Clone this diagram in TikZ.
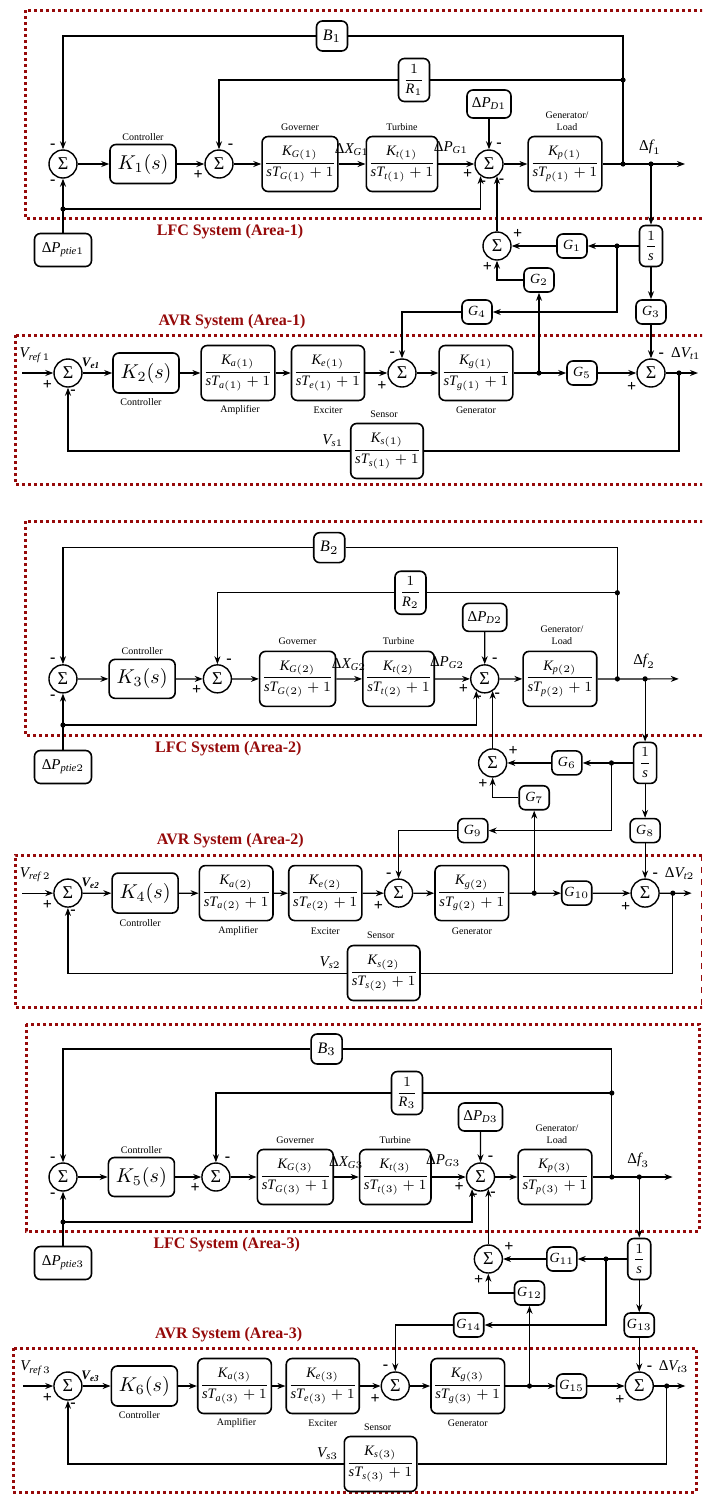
\documentclass[tikz,border=0pt]{standalone}
\usepackage{amsmath}
\usepackage{fontspec}
\setmainfont{Liberation Serif}
\usetikzlibrary{arrows.meta}
\definecolor{dred}{RGB}{150,10,10}
\newcommand\mv[1]{\textit{#1}}
\newcommand\Dl{\text{Δ}}
\newcommand\TF[2]{$\dfrac{\mv{K}_{\mv{#1}(#2)}}{\mv{sT}_{\mv{#1}(#2)}+1}$}
\tikzset{
 blk/.style={draw, rounded corners=3pt, line width=0.8pt, inner sep=1pt, align=center,
   minimum width=30.5pt, minimum height=27.5pt, font=\fontsize{7.2}{8.5}\selectfont},
 gbox/.style={blk, minimum width=15pt, minimum height=12pt, font=\fontsize{7}{8}\selectfont},
 sumn/.style={draw, circle, line width=0.7pt, minimum size=14pt, inner sep=0pt, font=\fontsize{9}{10}\selectfont},
 sgn/.style={font=\fontsize{8}{8}\selectfont\bfseries, inner sep=0pt, label distance=1.2pt},
 arr/.style={-{Stealth[length=4pt,width=3pt]}, line width=0.6pt},
 ln/.style={line width=0.6pt},
 capt/.style={font=\fontsize{5}{6}\selectfont, inner sep=0pt, align=center},
 ttl/.style={font=\fontsize{8}{10}\selectfont\bfseries, text=dred, inner sep=0pt},
 sig/.style={font=\fontsize{7.5}{9}\selectfont, inner sep=0pt},
 bord/.style={dred, line width=1.5pt, dash pattern=on 1.5pt off 1.5pt},
}
\newcommand\DrawArea[2]{%
\pgfmathtruncatemacro\myKl{2*#1-1}%
\pgfmathtruncatemacro\myKa{2*#1}%
\pgfmathtruncatemacro\myGa{5*#1-4}%
\pgfmathtruncatemacro\myGb{5*#1-3}%
\pgfmathtruncatemacro\myGc{5*#1-2}%
\pgfmathtruncatemacro\myGd{5*#1-1}%
\pgfmathtruncatemacro\myGe{5*#1}%
\begin{scope}[#2]
% ---------------- LFC ----------------
\node[ttl] (tL#1) at (230,232) {LFC System (Area-#1)};
\node[sumn, label={[sgn]115:-}, label={[sgn]245:-}] (sA#1) at (63,164) {Σ};
\node[blk, minimum width=33pt, minimum height=19.5pt, font=\fontsize{10}{12}\selectfont] (K#1) at (143,164) {$K_{\myKl}(s)$};
\node[capt] (cK#1) at (143,137) {Controller};
\node[sumn, label={[sgn]202:+}, label={[sgn]60:-}] (sB#1) at (219,164) {Σ};
\node[blk] (gov#1) at (300,164) {\TF{G}{#1}};
\node[capt] (cG#1) at (300,127) {Governer};
\node[sig] (lX#1) at (352,150) {$\Dl\mv{X}_{\mv{G}#1}$};
\node[blk] (tur#1) at (402,164) {\TF{t}{#1}};
\node[capt] (cT#1) at (402,127) {Turbine};
\node[sig] (lP#1) at (451,148) {$\Dl\mv{P}_{\mv{G}#1}$};
\node[sumn, label={[sgn]197:+}, label={[sgn]66:-}, label={[sgn]261:-}, label={[sgn]304:-}] (sC#1) at (489,164) {Σ};
\node[blk, minimum width=22pt, minimum height=14pt, font=\fontsize{7.5}{9}\selectfont] (PD#1) at (489,104) {$\Dl\mv{P}_{\mv{D}#1}$};
\node[blk] (gl#1) at (565,164) {\TF{p}{#1}};
\node[capt] (cL#1) at (567,121) {Generator/\\Load};
\node[blk, minimum width=15.5pt, minimum height=15pt, font=\fontsize{8}{9}\selectfont] (B#1) at (332,36) {$\mv{B}_{#1}$};
\node[blk, minimum width=15.5pt, minimum height=21.5pt] (R#1) at (414,80) {$\dfrac{1}{\mv{R}_{#1}}$};
\node[blk, minimum width=28.5pt, minimum height=16.5pt, font=\fontsize{7.5}{9}\selectfont] (pt#1) at (63,250) {$\Dl\mv{P}_{\mv{ptie}#1}$};
\node[sig] (lf#1) at (650,147) {$\Dl\mv{f}_{#1}$};
\coordinate (J1#1) at (623,164);
\coordinate (JR#1) at (623,80);
\coordinate (J2#1) at (651,164);
\coordinate (fe#1) at (685,164);
\coordinate (Jb#1) at (63,209);
\node[blk, minimum width=11.5pt, minimum height=20.5pt] (inv#1) at (651,246) {$\dfrac{1}{\mv{s}}$};
\coordinate (J3#1) at (617,246);
\node[gbox] (gA#1) at (572,246) {$\mv{G}_{\myGa}$};
\node[sumn, label={[sgn]24:+}, label={[sgn]254:+}] (sD#1) at (497,246) {Σ};
\node[gbox] (gB#1) at (539,280) {$\mv{G}_{\myGb}$};
\node[gbox] (gD#1) at (477,312) {$\mv{G}_{\myGd}$};
\node[gbox] (gC#1) at (651,312) {$\mv{G}_{\myGc}$};
% connectors LFC
\draw[arr] (sA#1) -- (K#1);
\draw[arr] (K#1) -- (sB#1);
\draw[arr] (sB#1) -- (gov#1);
\draw[arr] (gov#1) -- (tur#1);
\draw[arr] (tur#1) -- (sC#1);
\draw[arr] (sC#1) -- (gl#1);
\draw[arr] (gl#1) -- (fe#1);
\draw[arr] (PD#1) -- (sC#1);
\draw[ln] (J1#1) |- (B#1.east);
\draw[arr] (B#1.west) -| (sA#1.north);
\draw[ln] (JR#1) -- (R#1.east);
\draw[arr] (R#1.west) -| (sB#1.north);
\draw[arr] (pt#1.north) -- (sA#1.south);
\draw[arr] (Jb#1) -| (sC#1.-125);
\draw[arr] (J2#1) -- (inv#1.north);
\draw[ln] (inv#1.west) -- (J3#1);
\draw[arr] (J3#1) -- (gA#1.east);
\draw[arr] (gA#1.west) -- (sD#1.east);
\draw[arr] (J3#1) |- (gD#1.east);
\draw[arr] (gB#1.west) -| (sD#1.south);
\draw[arr] (sD#1.north) -- (sD#1.north |- sC#1.-55);
\draw[arr] (inv#1.south) -- (gC#1.north);
% ---------------- AVR ----------------
\node[ttl] (tA#1) at (232,322) {AVR System (Area-#1)};
\node[sumn, label={[sgn]205:+}, label={[sgn]277:-}] (sE#1) at (68,373) {Σ};
\coordinate (vi#1) at (22,373);
\node[sig] (lV#1) at (35,355) {$\mv{V}_{\mv{ref}\,#1}$};
\node[font=\fontsize{6.5}{8}\selectfont\bfseries\itshape, inner sep=0pt] (lE#1) at (91,363) {V\textsubscript{e#1}};
\node[blk, minimum width=33pt, minimum height=20pt, font=\fontsize{10}{12}\selectfont] (K2#1) at (146,373) {$K_{\myKa}(s)$};
\node[capt] (cK2#1) at (141,402) {Controller};
\node[blk] (amp#1) at (238,373) {\TF{a}{#1}};
\node[capt] (cA#1) at (240,410) {Amplifier};
\node[blk] (exc#1) at (328,373) {\TF{e}{#1}};
\node[capt] (cE#1) at (328,410) {Exciter};
\node[sumn, label={[sgn]113:-}, label={[sgn]207:+}] (sF#1) at (402,373) {Σ};
\node[blk] (gen#1) at (476,373) {\TF{g}{#1}};
\node[capt] (cGe#1) at (476,410) {Generator};
\coordinate (J4#1) at (539,373);
\node[gbox] (gE#1) at (582,373) {$\mv{G}_{\myGe}$};
\node[sumn, label={[sgn]65:-}, label={[sgn]213:+}] (sG#1) at (651,373) {Σ};
\coordinate (J5#1) at (679,373);
\coordinate (ve#1) at (698,373);
\node[sig] (lDV#1) at (686,354) {$\Dl\mv{V}_{\mv{t}#1}$};
\node[blk] (sen#1) at (387,451) {\TF{s}{#1}};
\node[capt] (cS#1) at (384,414) {Sensor};
\node[sig] (lVs#1) at (333,441) {$\mv{V}_{\mv{s}#1}$};
% connectors AVR
\draw[arr] (vi#1) -- (sE#1.west);
\draw[arr] (sE#1) -- (K2#1);
\draw[arr] (K2#1) -- (amp#1);
\draw[arr] (amp#1) -- (exc#1);
\draw[arr] (exc#1) -- (sF#1);
\draw[arr] (sF#1) -- (gen#1);
\draw[arr] (gen#1) -- (gE#1);
\draw[arr] (gE#1) -- (sG#1);
\draw[arr] (sG#1) -- (ve#1);
\draw[ln] (J5#1) |- (sen#1.east);
\draw[arr] (sen#1.west) -| (sE#1.south);
\draw[arr] (gD#1.west) -| (sF#1.north);
\draw[arr] (J4#1) -- (gB#1.south);
\draw[arr] (gC#1.south) -- (sG#1.north);
% junction dots
\foreach \j in {J1,JR,J2,Jb,J3,J4,J5}{\fill (\j#1) circle (1.3pt);}
\end{scope}}

\begin{document}
\begin{tikzpicture}[x=0.5pt, y=-0.5pt]
\useasboundingbox (0,0) rectangle (702,1494);
\fill[white] (0,0) rectangle (702,1494);
\begin{scope}
\clip (0,0) rectangle (702,1494);
\draw[bord] (25,10) rectangle (720,218);
\draw[bord] (15,335) rectangle (720,484);
\draw[bord] (25,521) rectangle (720,735);
\draw[bord] (720,855) -- (15,855) -- (15,1007) -- (720,1007);
\draw[dred, line width=0.5pt, dashed] (701,855) -- (701,1007);
\draw[bord] (26,1024) rectangle (699,1231);
\draw[bord] (13,1348) rectangle (696,1492);
\end{scope}
\DrawArea{1}{}
\DrawArea{2}{shift={(0.6,510.75)}, xscale=0.99, yscale=1.025}
\DrawArea{3}{shift={(1.3,1013)}, xscale=0.98}
\end{tikzpicture}
\end{document}
